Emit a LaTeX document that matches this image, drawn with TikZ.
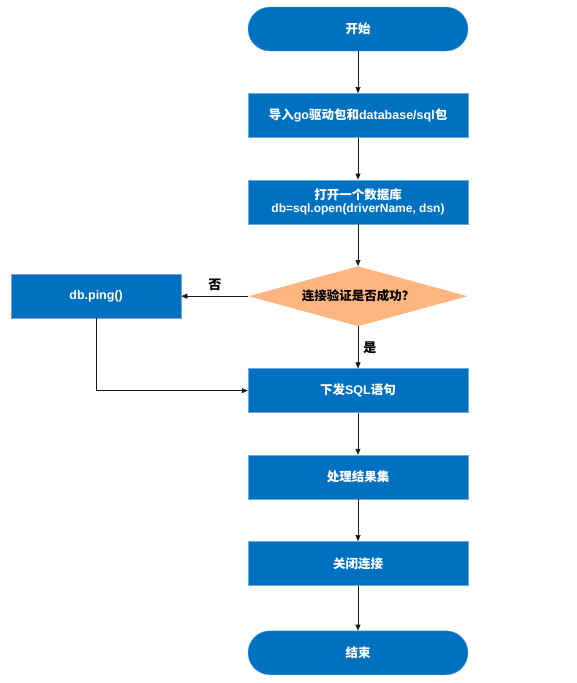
\documentclass[tikz,border=0pt]{standalone}
\usepackage{fontspec}
\setmainfont{Liberation Sans}
\newfontfamily\cjk{Noto Sans CJK SC}
\usetikzlibrary{arrows.meta,positioning,shapes.geometric}
\definecolor{boxblue}{HTML}{0070C0}
\definecolor{boxedge}{HTML}{6FA8DC}
\definecolor{decorange}{HTML}{FFB57F}

\begin{document}
\begin{tikzpicture}[
    x=1pt, y=1pt,
    font=\fontsize{12.5}{14}\selectfont\bfseries,
    node distance=42pt and 67pt,
    % node styles
    terminal/.style = {draw=boxedge, fill=boxblue, text=white, rounded corners=21.9pt,
                       minimum width=220pt, minimum height=44pt, align=center,
                       inner sep=2pt},
    process/.style  = {draw=boxedge, fill=boxblue, text=white,
                       minimum width=220pt, minimum height=44pt, align=center,
                       inner sep=2pt},
    sidebox/.style  = {process, minimum width=170pt},
    decision/.style = {diamond, aspect=3.65, fill=decorange, text=black, inner sep=0pt,
                       minimum width=219pt, minimum height=60pt},
    % edges
    flow/.style     = {-{Triangle[length=6pt,width=5pt]}, semithick, black!90},
    elabel/.style   = {font=\fontsize{13}{15}\selectfont\bfseries\cjk, text=black, inner sep=2pt}
  ]

\useasboundingbox (0,0) rectangle (577,-683);

% main column
\node[terminal] (start) at (358,-29) {\cjk 开始};
\node[process, below=of start] (import)
  {{\cjk 导入}go{\cjk 驱动包和}database/sql{\cjk 包}};
\node[process, below=of import] (open)
  {{\cjk 打开一个数据库}\\[-1pt] {\fontsize{12}{14}\selectfont db=sql.open(driverName, dsn)}};
\node[decision, below=of open] (check) {\cjk 连接验证是否成功？};
\node[process, below=of check] (send) {{\cjk 下发}SQL{\cjk 语句}};
\node[process, below=of send] (result) {\cjk 处理结果集};
\node[process, below=of result] (close) {\cjk 关闭连接};
\node[terminal, below=45pt of close] (finish) {\cjk 结束};

% retry branch
\node[sidebox, left=of check] (ping) {db.ping()};

% connectors
\draw[flow] (start) -- (import);
\draw[flow] (import) -- (open);
\draw[flow] (open) -- (check);
\draw[flow] (check.west) -- node[elabel, above=3pt] {否} (ping);
\draw[flow] (check.south) -- node[elabel, right=3pt] {是} (send);
\draw[flow] (ping.south) |- (send.west);
\draw[flow] (send) -- (result);
\draw[flow] (result) -- (close);
\draw[flow] (close) -- (finish);

\end{tikzpicture}
\end{document}
